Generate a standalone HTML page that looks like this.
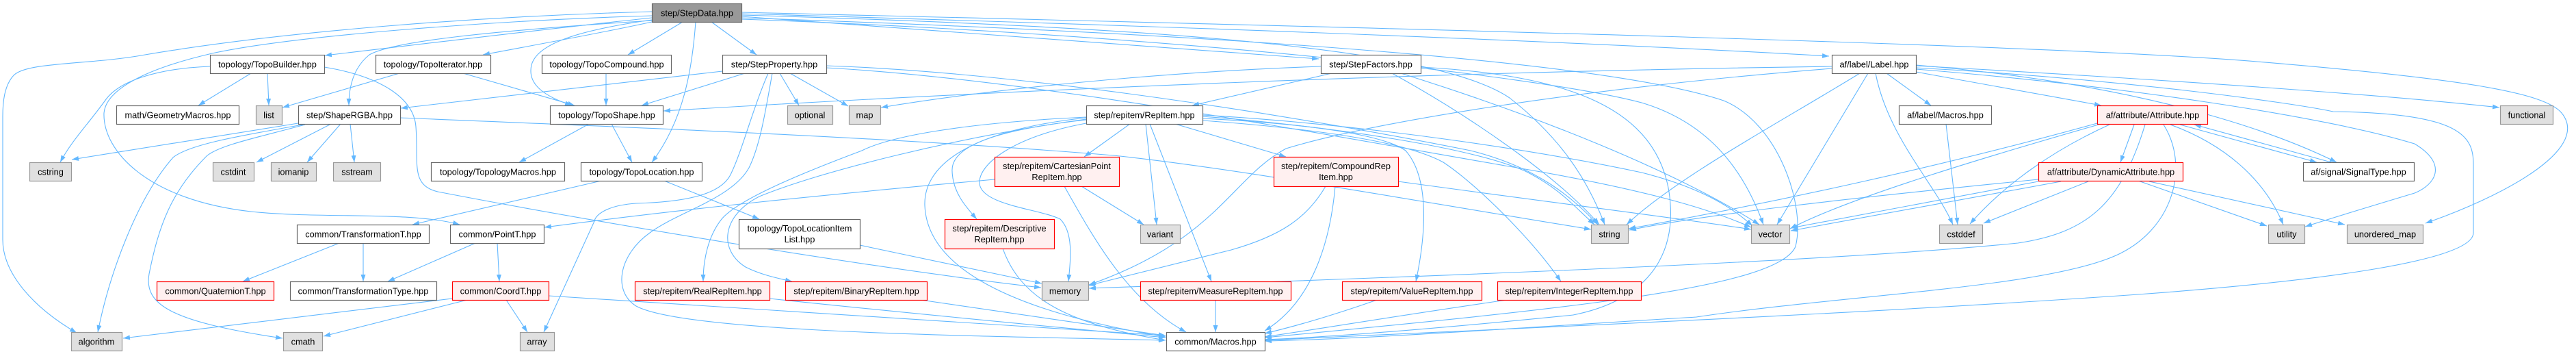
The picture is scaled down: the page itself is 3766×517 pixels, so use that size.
<!DOCTYPE html>
<html><head><meta charset="utf-8"><style>
html,body{margin:0;padding:0;background:#fff;}
svg{display:block;}
.e{fill:none;stroke:#63b8ff;stroke-width:1.1;}
.n{fill:#fff;stroke:#666;stroke-width:1.2;}
.g{fill:#e0e0e0;stroke:#999;stroke-width:1.2;}
.r{fill:#fff0f0;stroke:#ff0000;stroke-width:1.2;}
.d{fill:#999;stroke:#666;stroke-width:1.2;}
text{font-family:"Liberation Sans",Arial,sans-serif;font-size:12.8px;fill:#000;text-anchor:middle;}
</style></head><body>
<svg width="3766" height="517" viewBox="0 0 3766 517" xmlns="http://www.w3.org/2000/svg">
<defs><marker id="a" markerUnits="userSpaceOnUse" markerWidth="11" markerHeight="8" refX="10" refY="3.5" orient="auto"><path d="M0,0 L10,3.5 L0,7 z" fill="#63b8ff"/></marker></defs>
<g marker-end="url(#a)">
<path class="e" d="M953,26 C 800,42 620,64 475,81"/>
<path class="e" d="M953,32 C 880,48 780,66 706,80"/>
<path class="e" d="M998,32 L 918,80"/>
<path class="e" d="M1040,32 L 1106,80"/>
<path class="e" d="M953,29 C 840,45 785,65 777,95 C 770,125 800,142 836,154"/>
<path class="e" d="M1017,32 C 1012,100 1000,175 953,237"/>
<path class="e" d="M953,30 C 720,45 575,60 540,80 C 515,100 510,130 510,154"/>
<path class="e" d="M953,17 C 700,24 420,45 212,80 C 130,95 40,90 20,110 C 6,125 4,150 4,170 L 4,350 C 4,400 50,450 112,486"/>
<path class="e" d="M307,97 C 230,100 175,118 155,145 C 130,180 105,205 88,237"/>
<path class="e" d="M953,23 C 720,30 430,52 310,78 C 215,100 155,130 152,165 C 150,220 215,292 367,309 C 470,320 600,308 672,328"/>
<path class="e" d="M367,107 L 290,154"/>
<path class="e" d="M391,107 L 393,154"/>
<path class="e" d="M474,98 C 560,112 605,145 608,185 C 612,240 600,270 640,280 C 900,330 1300,395 1522,420"/>
<path class="e" d="M584,107 L 413,157"/>
<path class="e" d="M677,107 L 840,154"/>
<path class="e" d="M886,107 L 886,154"/>
<path class="e" d="M1089,107 L 938,154"/>
<path class="e" d="M1140,107 L 1168,154"/>
<path class="e" d="M1155,107 L 1240,155"/>
<path class="e" d="M1056,104 L 586,158"/>
<path class="e" d="M1123,107 C 1100,160 1085,220 1069,253 C 1055,285 1000,295 930,297 C 885,300 870,315 869,323 L 795,485"/>
<path class="e" d="M1129,107 C 1118,170 1110,215 1095,245 C 1070,290 990,310 950,340 C 905,372 895,425 930,447 C 1000,485 1400,490 1704,497"/>
<path class="e" d="M1208,96 C 1500,106 1900,170 2150,220 C 2250,245 2300,290 2336,328"/>
<path class="e" d="M1208,99 C 1500,115 1900,190 2200,242 C 2400,275 2500,305 2560,332"/>
<path class="e" d="M861,181 L 759,237"/>
<path class="e" d="M894,181 L 924,237"/>
<path class="e" d="M879,264 L 603,328"/>
<path class="e" d="M971,264 L 1110,320"/>
<path class="e" d="M1257,358 C 1350,378 1450,398 1523,414"/>
<path class="e" d="M496,355 L 355,411"/>
<path class="e" d="M531,355 L 531,411"/>
<path class="e" d="M695,355 L 567,411"/>
<path class="e" d="M727,355 L 730,411"/>
<path class="e" d="M740,438 L 771,485"/>
<path class="e" d="M661,436 L 180,494"/>
<path class="e" d="M683,438 L 473,491"/>
<path class="e" d="M802,432 C 1200,455 1500,475 1704,490"/>
<path class="e" d="M436,180 L 105,233"/>
<path class="e" d="M443,182 C 340,200 275,212 253,230 C 200,290 160,400 143,485"/>
<path class="e" d="M446,182 C 380,200 320,212 302,228 C 250,280 232,330 218,400 C 210,445 250,470 413,494"/>
<path class="e" d="M484,181 L 375,237"/>
<path class="e" d="M498,181 L 449,237"/>
<path class="e" d="M512,181 L 518,237"/>
<path class="e" d="M585,172 C 900,185 1300,200 1628,227 C 1800,245 2050,290 2326,335"/>
<path class="e" d="M1652,181 L 1585,229"/>
<path class="e" d="M1675,181 L 1691,328"/>
<path class="e" d="M1681,181 L 1771,411"/>
<path class="e" d="M1718,181 L 1880,229"/>
<path class="e" d="M1588,175 C 1450,190 1390,215 1392,250 C 1393,280 1410,300 1428,320"/>
<path class="e" d="M1588,180 C 1480,200 1430,240 1432,268 C 1435,300 1520,305 1550,320 C 1570,340 1565,380 1562,411"/>
<path class="e" d="M1588,172 C 1420,190 1350,240 1352,300 C 1355,380 1450,450 1704,492"/>
<path class="e" d="M1588,171 C 1400,180 1300,200 1260,220 C 1180,250 1080,290 1055,320 C 1035,345 1028,380 1028,411"/>
<path class="e" d="M1588,174 C 1400,200 1200,250 1110,287 C 1055,315 1050,365 1090,390 C 1110,400 1130,405 1158,411"/>
<path class="e" d="M1758,173 C 1900,180 2020,195 2055,220 C 2090,260 2085,340 2070,411"/>
<path class="e" d="M1758,176 C 1950,190 2060,210 2110,237 C 2160,270 2240,350 2282,411"/>
<path class="e" d="M1758,170 C 1950,185 2150,215 2230,250 C 2280,275 2300,300 2331,328"/>
<path class="e" d="M1758,168 C 2000,182 2250,220 2400,252 C 2480,272 2530,300 2562,330"/>
<path class="e" d="M1581,272 L 1672,328"/>
<path class="e" d="M1556,272 C 1600,350 1650,440 1734,485"/>
<path class="e" d="M1454,262 C 1200,285 1000,305 796,332"/>
<path class="e" d="M1466,363 C 1490,430 1550,472 1704,497"/>
<path class="e" d="M1777,438 L 1777,485"/>
<path class="e" d="M1346,438 C 1500,460 1600,476 1704,490"/>
<path class="e" d="M1125,436 C 1350,460 1550,478 1704,493"/>
<path class="e" d="M2013,438 C 1950,460 1900,475 1849,487"/>
<path class="e" d="M2203,438 C 2050,460 1950,477 1849,492"/>
<path class="e" d="M1952,272 C 1945,350 1920,440 1849,483"/>
<path class="e" d="M1938,272 C 1910,320 1870,345 1800,365 C 1700,390 1640,405 1591,417"/>
<path class="e" d="M2044,265 C 2300,300 2450,318 2560,335"/>
<path class="e" d="M1931,97 C 1700,105 1450,130 1288,157"/>
<path class="e" d="M1947,107 L 1743,154"/>
<path class="e" d="M2035,107 C 2150,170 2280,260 2338,328"/>
<path class="e" d="M2048,107 C 2250,170 2450,250 2572,328"/>
<path class="e" d="M2077,98 C 2300,110 2420,160 2440,280 C 2455,380 2400,440 2300,460 C 2100,480 1950,492 1849,496"/>
<path class="e" d="M2758,107 L 2823,154"/>
<path class="e" d="M2801,105 L 3072,154"/>
<path class="e" d="M2742,107 C 2760,200 2830,270 2855,328"/>
<path class="e" d="M2731,107 L 2598,328"/>
<path class="e" d="M2719,107 C 2600,180 2450,260 2378,328"/>
<path class="e" d="M2801,95 C 3100,120 3300,180 3416,237"/>
<path class="e" d="M2801,96 C 3200,118 3500,140 3654,157"/>
<path class="e" d="M2678,97 C 2100,105 1500,130 970,162"/>
<path class="e" d="M2801,101 C 3100,125 3400,170 3530,210 C 3580,240 3560,270 3530,282 C 3470,300 3420,315 3370,331"/>
<path class="e" d="M2678,100 C 2300,130 2000,180 1880,217 C 1800,260 1780,350 1592,416"/>
<path class="e" d="M3136,182 C 3100,300 3050,340 2950,355 C 2700,380 2200,400 1592,421"/>
<path class="e" d="M3163,182 C 3200,240 3180,330 3100,370 C 3000,420 2700,430 2480,463 C 2200,480 2000,495 1849,498"/>
<path class="e" d="M3120,182 L 3100,237"/>
<path class="e" d="M3187,182 L 3387,237"/>
<path class="e" d="M3408,237 L 3208,182"/>
<path class="e" d="M3173,182 C 3250,210 3310,260 3338,328"/>
<path class="e" d="M3068,182 C 2900,230 2700,290 2617,334"/>
<path class="e" d="M3084,182 C 3000,220 2930,270 2880,327"/>
<path class="e" d="M3066,180 C 2850,240 2600,295 2381,334"/>
<path class="e" d="M2980,265 L 2618,333"/>
<path class="e" d="M3013,265 L 2618,337"/>
<path class="e" d="M3053,265 L 2900,326"/>
<path class="e" d="M3126,264 L 3314,330"/>
<path class="e" d="M3142,265 L 3428,328"/>
<path class="e" d="M2980,262 C 2700,290 2500,312 2382,336"/>
<path class="e" d="M2845,181 L 2862,328"/>
<path class="e" d="M1084,22 C 1700,40 2100,70 2207,143 C 2280,200 2320,260 2346,328"/>
<path class="e" d="M1084,28 C 1700,50 2250,110 2400,150 C 2500,180 2550,250 2578,328"/>
<path class="e" d="M1084,26 C 1800,50 2350,90 2520,147 C 2600,180 2640,300 2625,360 C 2600,420 2300,450 1849,493"/>
<path class="e" d="M2801,99 C 3100,115 3350,150 3411,163 C 3600,165 3616,200 3616,240 L 3616,340 C 3616,380 3400,410 3126,430 C 2700,460 2200,480 1849,497"/>
<path class="e" d="M1084,24 L 1928,86"/>
<path class="e" d="M1084,20 C 1600,35 2200,55 2674,82"/>
<path class="e" d="M1084,18 C 2000,40 3000,65 3300,90 C 3600,115 3720,135 3745,165 C 3790,220 3650,290 3546,326"/>
</g>
<!-- nodes -->
<rect class="d" x="953.5" y="5.5" width="131" height="27"/><text x="1019" y="23.5">step/StepData.hpp</text>

<rect class="n" x="307.5" y="80.5" width="167" height="27"/><text x="391" y="98.5">topology/TopoBuilder.hpp</text>
<rect class="n" x="549.5" y="80.5" width="168" height="27"/><text x="633" y="98.5">topology/TopoIterator.hpp</text>
<rect class="n" x="792.5" y="80.5" width="189" height="27"/><text x="887" y="98.5">topology/TopoCompound.hpp</text>
<rect class="n" x="1056.5" y="80.5" width="152" height="27"/><text x="1132" y="98.5">step/StepProperty.hpp</text>
<rect class="n" x="1931.5" y="80.5" width="146" height="27"/><text x="2004" y="98.5">step/StepFactors.hpp</text>
<rect class="n" x="2678.5" y="80.5" width="123" height="27"/><text x="2740" y="98.5">af/label/Label.hpp</text>

<rect class="n" x="170.5" y="154.5" width="179" height="27"/><text x="260" y="172.5">math/GeometryMacros.hpp</text>
<rect class="g" x="374.5" y="154.5" width="38" height="27"/><text x="393" y="172.5">list</text>
<rect class="n" x="436.5" y="154.5" width="149" height="27"/><text x="511" y="172.5">step/ShapeRGBA.hpp</text>
<rect class="n" x="804.5" y="154.5" width="165" height="27"/><text x="887" y="172.5">topology/TopoShape.hpp</text>
<rect class="g" x="1151.5" y="154.5" width="66" height="27"/><text x="1184" y="172.5">optional</text>
<rect class="g" x="1241.5" y="154.5" width="46" height="27"/><text x="1264" y="172.5">map</text>
<rect class="n" x="1588.5" y="154.5" width="170" height="27"/><text x="1673" y="172.5">step/repitem/RepItem.hpp</text>
<rect class="n" x="2776.5" y="154.5" width="135" height="27"/><text x="2844" y="172.5">af/label/Macros.hpp</text>
<rect class="r" x="3066.5" y="154.5" width="161" height="27"/><text x="3147" y="172.5">af/attribute/Attribute.hpp</text>
<rect class="g" x="3655.5" y="154.5" width="77" height="27"/><text x="3694" y="172.5">functional</text>

<rect class="g" x="43.5" y="237.5" width="61" height="27"/><text x="74" y="255.5">cstring</text>
<rect class="g" x="311.5" y="237.5" width="60" height="27"/><text x="341" y="255.5">cstdint</text>
<rect class="g" x="396.5" y="237.5" width="66" height="27"/><text x="429" y="255.5">iomanip</text>
<rect class="g" x="487.5" y="237.5" width="69" height="27"/><text x="522" y="255.5">sstream</text>
<rect class="n" x="630.5" y="237.5" width="195" height="27"/><text x="728" y="255.5">topology/TopologyMacros.hpp</text>
<rect class="n" x="849.5" y="237.5" width="177" height="27"/><text x="938" y="255.5">topology/TopoLocation.hpp</text>
<rect class="r" x="1454.5" y="229.5" width="182" height="43"/><text x="1545" y="247">step/repitem/CartesianPoint</text><text x="1545" y="263">RepItem.hpp</text>
<rect class="r" x="1862.5" y="229.5" width="182" height="43"/><text x="1953" y="247">step/repitem/CompoundRep</text><text x="1953" y="263">Item.hpp</text>
<rect class="r" x="2980.5" y="237.5" width="211" height="27"/><text x="3086" y="255.5">af/attribute/DynamicAttribute.hpp</text>
<rect class="n" x="3367.5" y="237.5" width="162" height="27"/><text x="3448" y="255.5">af/signal/SignalType.hpp</text>

<rect class="n" x="434.5" y="328.5" width="193" height="27"/><text x="531" y="346.5">common/TransformationT.hpp</text>
<rect class="n" x="658.5" y="328.5" width="137" height="27"/><text x="727" y="346.5">common/PointT.hpp</text>
<rect class="n" x="1080.5" y="320.5" width="177" height="43"/><text x="1169" y="338">topology/TopoLocationItem</text><text x="1169" y="354">List.hpp</text>
<rect class="r" x="1381.5" y="320.5" width="160" height="43"/><text x="1461" y="338">step/repitem/Descriptive</text><text x="1461" y="354">RepItem.hpp</text>
<rect class="g" x="1667.5" y="328.5" width="58" height="27"/><text x="1696" y="346.5">variant</text>
<rect class="g" x="2326.5" y="328.5" width="54" height="27"/><text x="2353" y="346.5">string</text>
<rect class="g" x="2560.5" y="328.5" width="56" height="27"/><text x="2588" y="346.5">vector</text>
<rect class="g" x="2835.5" y="328.5" width="63" height="27"/><text x="2867" y="346.5">cstddef</text>
<rect class="g" x="3316.5" y="328.5" width="53" height="27"/><text x="3343" y="346.5">utility</text>
<rect class="g" x="3431.5" y="328.5" width="111" height="27"/><text x="3487" y="346.5">unordered_map</text>

<rect class="r" x="229.5" y="411.5" width="171" height="27"/><text x="315" y="429.5">common/QuaternionT.hpp</text>
<rect class="n" x="424.5" y="411.5" width="214" height="27"/><text x="531" y="429.5">common/TransformationType.hpp</text>
<rect class="r" x="661.5" y="411.5" width="141" height="27"/><text x="732" y="429.5">common/CoordT.hpp</text>
<rect class="r" x="928.5" y="411.5" width="197" height="27"/><text x="1027" y="429.5">step/repitem/RealRepItem.hpp</text>
<rect class="r" x="1148.5" y="411.5" width="207" height="27"/><text x="1252" y="429.5">step/repitem/BinaryRepItem.hpp</text>
<rect class="g" x="1523.5" y="411.5" width="68" height="27"/><text x="1557" y="429.5">memory</text>
<rect class="r" x="1667.5" y="411.5" width="220" height="27"/><text x="1777" y="429.5">step/repitem/MeasureRepItem.hpp</text>
<rect class="r" x="1962.5" y="411.5" width="204" height="27"/><text x="2064" y="429.5">step/repitem/ValueRepItem.hpp</text>
<rect class="r" x="2189.5" y="411.5" width="210" height="27"/><text x="2294" y="429.5">step/repitem/IntegerRepItem.hpp</text>

<rect class="g" x="104.5" y="485.5" width="74" height="27"/><text x="141" y="503.5">algorithm</text>
<rect class="g" x="414.5" y="485.5" width="57" height="27"/><text x="443" y="503.5">cmath</text>
<rect class="g" x="760.5" y="485.5" width="50" height="27"/><text x="785" y="503.5">array</text>
<rect class="n" x="1705.5" y="485.5" width="144" height="27"/><text x="1777" y="503.5">common/Macros.hpp</text>
</svg>
</body></html>
